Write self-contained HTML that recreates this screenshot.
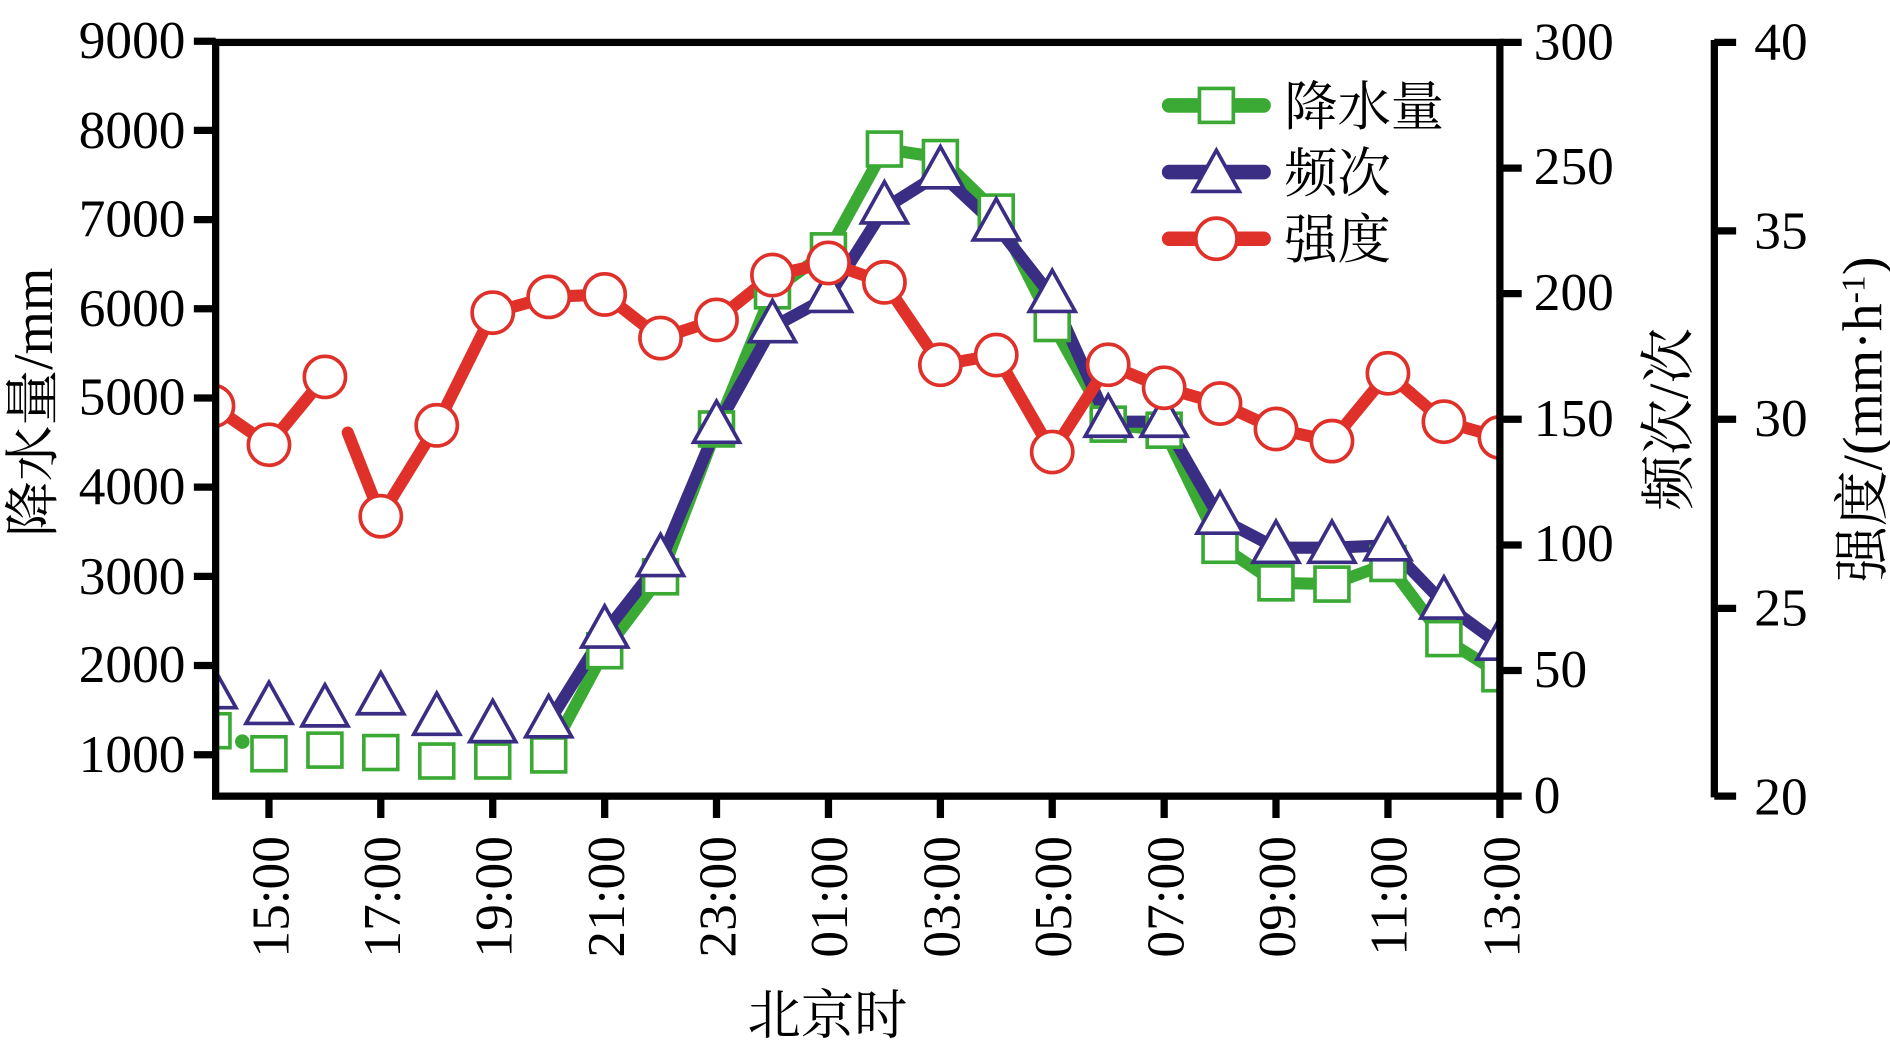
<!DOCTYPE html>
<html><head><meta charset="utf-8"><style>
html,body{margin:0;padding:0;background:#fff;}
svg{display:block;}
text{font-family:"Liberation Serif","Noto Serif CJK SC",serif;fill:#000;}
</style></head><body>
<svg width="1890" height="1047" viewBox="0 0 1560 864" preserveAspectRatio="none" xmlns="http://www.w3.org/2000/svg">
<defs>
<clipPath id="pc"><rect x="178" y="35" width="1060" height="622"/></clipPath>
<g id="sq"><rect x="-14" y="-14" width="28" height="28" fill="#fff" stroke="#3aaa35" stroke-width="3"/></g>
<g id="tr"><polygon points="0,-22 19,12 -19,12" fill="#fff" stroke="#3a2d84" stroke-width="3"/></g>
<g id="ci"><circle r="17" fill="#fff" stroke="#e0302a" stroke-width="3"/></g>
</defs>
<g clip-path="url(#pc)">
<circle cx="200" cy="612" r="6" fill="#3aaa35"/>
<polyline fill="none" stroke="#3aaa35" stroke-width="10" stroke-linecap="round" stroke-linejoin="round" points="452.9,623 499.1,537 545.2,476 591.4,354 637.6,240 683.8,207 730,123 776.2,130 822.3,175 868.5,267 914.7,350 960.9,355 1007,450 1053.2,481 1099.4,482 1145.6,465 1191.8,527 1238,556"/>
<polyline fill="none" stroke="#3a2d84" stroke-width="10" stroke-linecap="round" stroke-linejoin="round" points="452.9,596 499.1,522 545.2,463 591.4,353 637.6,270 683.8,245 730,172 776.2,143 822.3,186 868.5,245 914.7,348 960.9,348 1007,428 1053.2,452 1099.4,452 1145.6,450 1191.8,498 1238,532"/>
<polyline fill="none" stroke="#e0302a" stroke-width="10" stroke-linecap="round" stroke-linejoin="round" points="175.8,335 222,367 268.2,311"/>
<polyline fill="none" stroke="#e0302a" stroke-width="10" stroke-linecap="round" stroke-linejoin="round" points="287,357 314.3,426 360.5,351 406.7,258 452.9,245 499.1,243 545.2,279 591.4,264 637.6,227 683.8,217 730,233 776.2,301 822.3,293 868.5,373 914.7,301 960.9,320 1007,333 1053.2,354 1099.4,364 1145.6,308 1191.8,348 1238,361"/>
<use href="#sq" x="175.8" y="603"/><use href="#sq" x="222" y="622"/><use href="#sq" x="268.2" y="619"/><use href="#sq" x="314.3" y="621"/><use href="#sq" x="360.5" y="628"/><use href="#sq" x="406.7" y="628"/><use href="#sq" x="452.9" y="623"/><use href="#sq" x="499.1" y="537"/><use href="#sq" x="545.2" y="476"/><use href="#sq" x="591.4" y="354"/><use href="#sq" x="637.6" y="240"/><use href="#sq" x="683.8" y="207"/><use href="#sq" x="730" y="123"/><use href="#sq" x="776.2" y="130"/><use href="#sq" x="822.3" y="175"/><use href="#sq" x="868.5" y="267"/><use href="#sq" x="914.7" y="350"/><use href="#sq" x="960.9" y="355"/><use href="#sq" x="1007" y="450"/><use href="#sq" x="1053.2" y="481"/><use href="#sq" x="1099.4" y="482"/><use href="#sq" x="1145.6" y="465"/><use href="#sq" x="1191.8" y="527"/><use href="#sq" x="1238" y="556"/>
<use href="#tr" x="175.8" y="572"/><use href="#tr" x="222" y="585"/><use href="#tr" x="268.2" y="587"/><use href="#tr" x="314.3" y="577"/><use href="#tr" x="360.5" y="594"/><use href="#tr" x="406.7" y="600"/><use href="#tr" x="452.9" y="596"/><use href="#tr" x="499.1" y="522"/><use href="#tr" x="545.2" y="463"/><use href="#tr" x="591.4" y="353"/><use href="#tr" x="637.6" y="270"/><use href="#tr" x="683.8" y="245"/><use href="#tr" x="730" y="172"/><use href="#tr" x="776.2" y="143"/><use href="#tr" x="822.3" y="186"/><use href="#tr" x="868.5" y="245"/><use href="#tr" x="914.7" y="348"/><use href="#tr" x="960.9" y="348"/><use href="#tr" x="1007" y="428"/><use href="#tr" x="1053.2" y="452"/><use href="#tr" x="1099.4" y="452"/><use href="#tr" x="1145.6" y="450"/><use href="#tr" x="1191.8" y="498"/><use href="#tr" x="1238" y="532"/>
<use href="#ci" x="175.8" y="335"/><use href="#ci" x="222" y="367"/><use href="#ci" x="268.2" y="311"/><use href="#ci" x="314.3" y="426"/><use href="#ci" x="360.5" y="351"/><use href="#ci" x="406.7" y="258"/><use href="#ci" x="452.9" y="245"/><use href="#ci" x="499.1" y="243"/><use href="#ci" x="545.2" y="279"/><use href="#ci" x="591.4" y="264"/><use href="#ci" x="637.6" y="227"/><use href="#ci" x="683.8" y="217"/><use href="#ci" x="730" y="233"/><use href="#ci" x="776.2" y="301"/><use href="#ci" x="822.3" y="293"/><use href="#ci" x="868.5" y="373"/><use href="#ci" x="914.7" y="301"/><use href="#ci" x="960.9" y="320"/><use href="#ci" x="1007" y="333"/><use href="#ci" x="1053.2" y="354"/><use href="#ci" x="1099.4" y="364"/><use href="#ci" x="1145.6" y="308"/><use href="#ci" x="1191.8" y="348"/><use href="#ci" x="1238" y="361"/>
</g>
<g stroke="#000" stroke-width="6" fill="none">
<rect x="178" y="35" width="1060" height="622"/>
<path d="M160,34H178M160,107.6H178M160,181.2H178M160,254.8H178M160,328.4H178M160,402H178M160,475.6H178M160,549.2H178M160,622.8H178"/>
<path d="M1238,35H1256M1238,138.7H1256M1238,242.3H1256M1238,346H1256M1238,449.7H1256M1238,553.3H1256M1238,657H1256"/>
<path d="M222,657V675M314.3,657V675M406.7,657V675M499.1,657V675M591.4,657V675M683.8,657V675M776.2,657V675M868.5,657V675M960.9,657V675M1053.2,657V675M1145.6,657V675M1238,657V675"/>
<path d="M1415,33V658M1415,35H1433M1415,190.5H1433M1415,346H1433M1415,502H1433M1415,657H1433"/>
</g>
<g font-size="44" text-anchor="end">
<text x="153" y="48">9000</text><text x="153" y="122">8000</text><text x="153" y="195">7000</text><text x="153" y="269">6000</text><text x="153" y="342">5000</text><text x="153" y="416">4000</text><text x="153" y="490">3000</text><text x="153" y="563">2000</text><text x="153" y="637">1000</text>
</g>
<g font-size="44">
<text x="1266" y="49">300</text><text x="1266" y="152">250</text><text x="1266" y="256">200</text><text x="1266" y="360">150</text><text x="1266" y="463">100</text><text x="1266" y="567">50</text><text x="1266" y="671">0</text>
<text x="1448" y="49">40</text><text x="1448" y="205">35</text><text x="1448" y="360">30</text><text x="1448" y="516">25</text><text x="1448" y="672">20</text>
</g>
<g font-size="44" text-anchor="end">
<text transform="translate(238,690) rotate(-90)">15:00</text>
<text transform="translate(330,690) rotate(-90)">17:00</text>
<text transform="translate(422,690) rotate(-90)">19:00</text>
<text transform="translate(515,690) rotate(-90)">21:00</text>
<text transform="translate(607,690) rotate(-90)">23:00</text>
<text transform="translate(699,690) rotate(-90)">01:00</text>
<text transform="translate(792,690) rotate(-90)">03:00</text>
<text transform="translate(884,690) rotate(-90)">05:00</text>
<text transform="translate(977,690) rotate(-90)">07:00</text>
<text transform="translate(1069,690) rotate(-90)">09:00</text>
<text transform="translate(1161,690) rotate(-90)">11:00</text>
<text transform="translate(1254,690) rotate(-90)">13:00</text>
</g>
<text x="683" y="853" font-size="44" text-anchor="middle">北京时</text>
<text transform="translate(43,332) rotate(-90)" font-size="46" text-anchor="middle">降水量/mm</text>
<text transform="translate(1393,346) rotate(-90)" font-size="46" text-anchor="middle">频次/次</text>
<text transform="translate(1553,346) rotate(-90)" font-size="46" text-anchor="middle">强度/(mm·h<tspan dy="-14" font-size="28">-1</tspan><tspan dy="14">)</tspan></text>
<g stroke-width="12" stroke-linecap="round">
<line x1="965" y1="87" x2="1043" y2="87" stroke="#3aaa35"/>
<line x1="965" y1="142" x2="1043" y2="142" stroke="#3a2d84"/>
<line x1="965" y1="197" x2="1043" y2="197" stroke="#e0302a"/>
</g>
<use href="#sq" x="1004" y="87"/>
<use href="#tr" x="1004" y="146"/>
<use href="#ci" x="1004" y="197"/>
<g font-size="44">
<text x="1060" y="103">降水量</text>
<text x="1060" y="158">频次</text>
<text x="1060" y="213">强度</text>
</g>
</svg>
</body></html>
